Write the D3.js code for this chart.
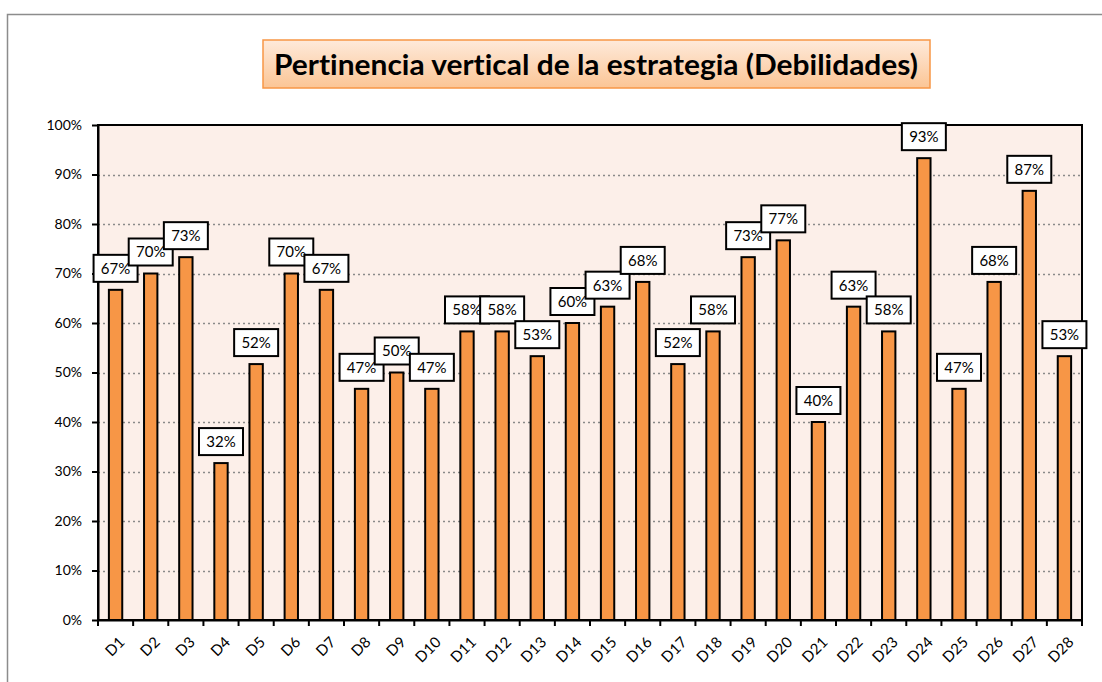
<!DOCTYPE html>
<html>
<head>
<meta charset="utf-8">
<script src="https://cdn.jsdelivr.net/npm/d3@7"></script>
<style>
  html, body { margin: 0; padding: 0; background: #ffffff; }
  svg { display: block; font-variant-ligatures: none; }
  text { font-variant-ligatures: none; font-feature-settings: "liga" 0, "clig" 0; }
</style>
</head>
<body>
<svg id="chart" width="1102" height="682"></svg>
<script>
// Categories (weaknesses D1..D28)
const categories = ["D1","D2","D3","D4","D5","D6","D7","D8","D9","D10","D11","D12","D13","D14",
  "D15","D16","D17","D18","D19","D20","D21","D22","D23","D24","D25","D26","D27","D28"];
// Vertical pertinence share per weakness
const values = [0.667, 0.700, 0.733, 0.317, 0.517, 0.700, 0.667, 0.467, 0.500, 0.467, 0.583, 0.583, 0.533, 0.600,
  0.633, 0.683, 0.517, 0.583, 0.733, 0.767, 0.400, 0.633, 0.583, 0.933, 0.467, 0.683, 0.867, 0.533];
// Y-axis ticks
const yTicks = [0, 0.1, 0.2, 0.3, 0.4, 0.5, 0.6, 0.7, 0.8, 0.9, 1.0];
const titleText = "Pertinencia vertical de la estrategia (Debilidades)";

const svg = d3.select("#chart");
const fmt = d3.format(".0%");
const FONT = "Lato, 'Open Sans', sans-serif";

// Outer chart frame
svg.append("rect")
  .attr("x", 7.5).attr("y", 14.5)
  .attr("width", 1120).attr("height", 700)
  .attr("fill", "#ffffff").attr("stroke", "#8c8c8c").attr("stroke-width", 1.5);

const plot = { left: 98, right: 1082, top: 125, bottom: 620 };

const x = d3.scaleBand().domain(categories).range([plot.left, plot.right]).paddingInner(0).paddingOuter(0);
const y = d3.scaleLinear().domain([0, 1]).range([plot.bottom, plot.top]);

// Plot background
svg.append("rect")
  .attr("x", plot.left).attr("y", plot.top)
  .attr("width", plot.right - plot.left).attr("height", plot.bottom - plot.top)
  .attr("fill", "#fcefe9");

// Dotted gridlines
svg.append("g").selectAll("line")
  .data(yTicks.filter(t => t > 0 && t < 1))
  .join("line")
  .attr("x1", plot.left).attr("x2", plot.right)
  .attr("y1", d => Math.round(y(d)) + 0.5).attr("y2", d => Math.round(y(d)) + 0.5)
  .attr("stroke", "#8a8a8a").attr("stroke-width", 1.3)
  .attr("stroke-dasharray", "2,3");

// Plot frame
svg.append("rect")
  .attr("x", plot.left).attr("y", plot.top)
  .attr("width", plot.right - plot.left).attr("height", plot.bottom - plot.top)
  .attr("fill", "none").attr("stroke", "#000").attr("stroke-width", 2);

// Bars
const barW = x.bandwidth() * 0.38;
svg.append("g").selectAll("rect")
  .data(values)
  .join("rect")
  .attr("x", (d, i) => x(categories[i]) + x.bandwidth() / 2 - barW / 2)
  .attr("y", d => y(d))
  .attr("width", barW)
  .attr("height", d => y(0) - y(d))
  .attr("fill", "#f79646")
  .attr("stroke", "#000").attr("stroke-width", 2);

// Y axis
const yAxis = svg.append("g")
  .attr("transform", `translate(${plot.left},0)`)
  .call(d3.axisLeft(y).tickValues(yTicks).tickFormat(fmt).tickSize(6).tickSizeOuter(0));
yAxis.select(".domain").attr("stroke", "#000").attr("stroke-width", 2);
yAxis.selectAll(".tick line").attr("stroke", "#000").attr("stroke-width", 2);
yAxis.selectAll(".tick text")
  .attr("x", -16)
  .attr("font-family", FONT)
  .attr("font-size", 14).attr("fill", "#000");

// X axis with ticks at band boundaries
const xAxis = svg.append("g")
  .attr("transform", `translate(0,${plot.bottom})`)
  .call(d3.axisBottom(x).tickSize(0).tickSizeOuter(0));
xAxis.select(".domain").attr("stroke", "#000").attr("stroke-width", 2);
xAxis.selectAll(".tick text")
  .attr("font-family", FONT)
  .attr("font-size", 15).attr("fill", "#000")
  .attr("text-anchor", "end")
  .attr("dy", null)
  .attr("transform", "translate(8,21) rotate(-45)");
svg.append("g").selectAll("line")
  .data(d3.range(categories.length + 1))
  .join("line")
  .attr("x1", i => plot.left + i * x.step())
  .attr("x2", i => plot.left + i * x.step())
  .attr("y1", plot.bottom).attr("y2", plot.bottom + 6)
  .attr("stroke", "#000").attr("stroke-width", 2);

// Value labels in boxes
const lblW = 44, lblH = 27, gap = 8;
const labels = svg.append("g").selectAll("g")
  .data(values)
  .join("g")
  .attr("transform", (d, i) => `translate(${x(categories[i]) + x.bandwidth() / 2},${y(d) - gap - lblH / 2})`);
labels.append("rect")
  .attr("x", -lblW / 2).attr("y", -lblH / 2)
  .attr("width", lblW).attr("height", lblH)
  .attr("fill", "#fff").attr("stroke", "#000").attr("stroke-width", 2);
labels.append("text")
  .attr("text-anchor", "middle").attr("dy", "0.36em")
  .attr("font-family", FONT)
  .attr("font-size", 15).attr("fill", "#000")
  .text(d => fmt(d));

// Title box with gradient
const defs = svg.append("defs");
const grad = defs.append("linearGradient").attr("id", "titleGrad")
  .attr("x1", 0).attr("y1", 0).attr("x2", 0).attr("y2", 1);
grad.append("stop").attr("offset", "0%").attr("stop-color", "#feeadb");
grad.append("stop").attr("offset", "100%").attr("stop-color", "#fbc595");
svg.append("rect")
  .attr("x", 263).attr("y", 40).attr("width", 667).attr("height", 48)
  .attr("fill", "url(#titleGrad)").attr("stroke", "#f79646").attr("stroke-width", 1.5);
svg.append("text")
  .attr("x", 596).attr("y", 75)
  .attr("text-anchor", "middle")
  .attr("font-family", FONT)
  .attr("font-weight", "bold").attr("font-size", 28)
  .attr("textLength", 644).attr("lengthAdjust", "spacingAndGlyphs")
  .attr("fill", "#000")
  .text(titleText);
</script>
</body>
</html>
